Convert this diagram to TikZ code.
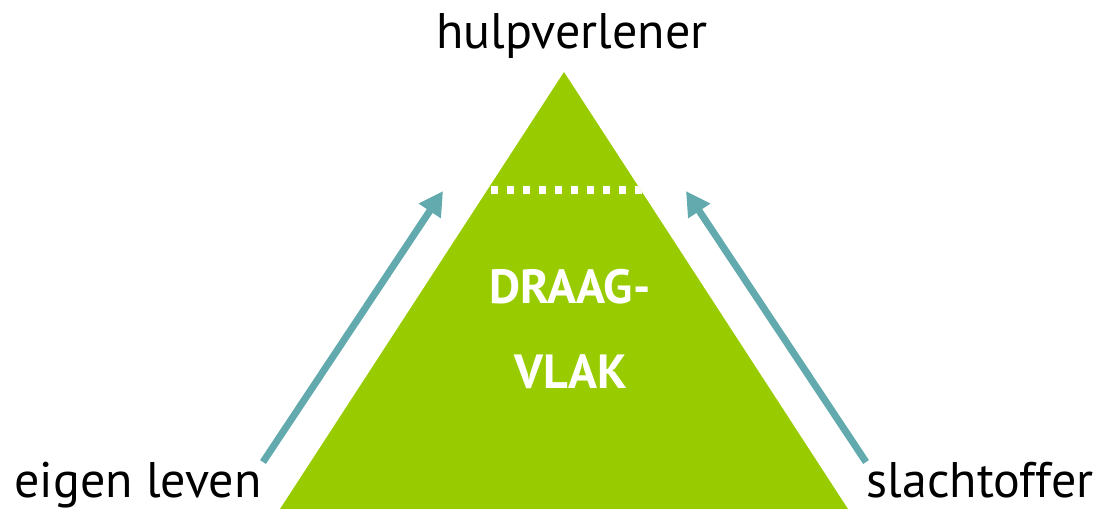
\documentclass[tikz,border=0pt]{standalone}
\usepackage{fontspec}
\setmainfont{PT Sans}
\usepackage{xcolor}
\usetikzlibrary{arrows.meta}

\definecolor{vlakgroen}{RGB}{153,204,0}
\definecolor{pijlblauw}{RGB}{99,170,174}

\begin{document}
\begin{tikzpicture}[x=0.5pt,y=-0.5pt,
  rol/.style={font=\fontsize{25}{30}\selectfont, anchor=base, inner sep=0pt},
  vlak/.style={font=\fontsize{24}{28}\selectfont\bfseries, text=white, anchor=base, inner sep=0pt},
  pijl/.style={draw=pijlblauw, line width=3.5pt, -{Triangle[length=12pt,width=12.5pt]}}]
\useasboundingbox (0,0) rectangle (1115,509);

  \coordinate (T) at (564,72);
  \coordinate (L) at (280,509);
  \coordinate (R) at (848,509);
  \fill[vlakgroen] (T) -- (L) -- (R) -- cycle;

  % stippellijn
  \coordinate (S1) at (491,190);
  \coordinate (S2) at (644,190);
  \begin{scope}
    \clip (T) -- (L) -- (R) -- cycle;
    \draw[white, line width=3.7pt, dash pattern=on 3.7pt off 4.3pt] (S1) -- (S2);
  \end{scope}

  \node[rol]   (H) at (572,48)  {hulpverlener};
  \node[rol]   (E) at (138,497) {eigen leven};
  \node[rol]   (S) at (980,497) {slachtoffer};
  \node[vlak]  (D) at (570,303) {DRAAG-};
  \node[vlak]  (V) at (571,388) {VLAK};

  \coordinate (A1) at (263,462);
  \coordinate (A2) at (443,191);
  \coordinate (B1) at (866,462);
  \coordinate (B2) at (686,191);

  \path (A1) edge[pijl] (A2)
        (B1) edge[pijl] (B2);
\end{tikzpicture}
\end{document}
